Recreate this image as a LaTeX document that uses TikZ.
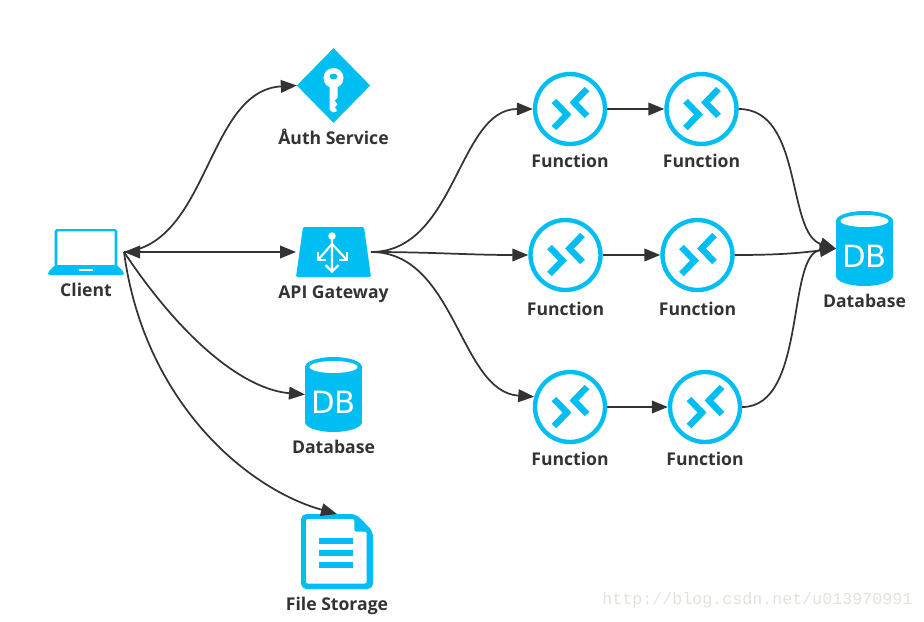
\documentclass[tikz,border=0pt]{standalone}
\usepackage{fontspec}
\setmainfont{Open Sans}
\newfontfamily\dbfont{DejaVu Sans}
\newfontfamily\markfont{Liberation Mono}
\usetikzlibrary{positioning,arrows.meta,shapes.geometric}
\definecolor{iconblue}{HTML}{00BEF2}
\definecolor{flowgray}{HTML}{333333}
\definecolor{labelgray}{HTML}{333333}
\definecolor{markgray}{HTML}{E2E2DA}
\tikzset{
    flow/.style={->,>={Triangle[length=12pt,width=9.5pt]},line width=1.3pt,draw=flowgray},
    iconlabel/.style={font=\bfseries\fontsize{13.2pt}{15pt}\selectfont,text=labelgray,inner sep=0pt,outer sep=0pt,text height=10pt,text depth=3pt},
    laptop/.style={rectangle,inner sep=0pt,outer sep=0pt,minimum width=57pt,minimum height=34.5pt,
        path picture={\begin{scope}[shift={(path picture bounding box.center)}]
            \draw[iconblue,line width=1.9pt,rounded corners=1pt] (-30,14)--(-30,-22)--(30,-22)--(30,14);
            \fill[iconblue,rounded corners=1.5pt] (-31,13)--(31,13)--(38,20)--(38,23)--(-38,23)--(-38,20)--cycle;
            \fill[white] (-7,17) rectangle (7,19);
        \end{scope}}},
    keyicon/.style={diamond,fill=iconblue,inner sep=0pt,outer sep=0pt,minimum width=55pt,minimum height=56pt,
        path picture={\begin{scope}[shift={(path picture bounding box.center)}]
            \fill[white] (0,-7.5) circle[radius=7.5pt];
            \fill[white] (-4,0)--(-4,24)--(-1,27)--(3,26)--(3,24)--(1,22)--(4,19)--(1,15)--(4,12)--(4,0)--cycle;
            \fill[iconblue] (0,-9) ellipse[x radius=3pt,y radius=2.2pt];
        \end{scope}}},
    gatewayicon/.style={rectangle,inner sep=0pt,outer sep=0pt,minimum width=56.25pt,minimum height=37.5pt,
        path picture={\begin{scope}[shift={(path picture bounding box.center)}]
            \fill[iconblue,rounded corners=1pt] (-30.5,-25)--(30.5,-25)--(37.5,25)--(-37.5,25)--cycle;
            \fill[white] (-1.5,-16) circle[radius=2.8pt];
            \draw[white,line width=1.6pt,miter limit=10] (-1.5,-16)--(-1.5,19) (-8,13)--(-1.5,19.5)--(5,13);
            \draw[white,line width=1.6pt] (-1.5,-8)--(-15.5,8) (-1.5,-8)--(13.5,8);
            \draw[white,line width=1.6pt] (-15.5,0)--(-15.5,8)--(-7.5,8) (13.5,0)--(13.5,8)--(5.5,8);
        \end{scope}}},
    dbicon/.style={rectangle,inner sep=0pt,outer sep=0pt,minimum width=42.75pt,minimum height=56.25pt,
        label={[text=white,font=\dbfont\fontsize{23pt}{25pt}\selectfont,inner sep=0pt,yshift=-6pt]center:DB},
        path picture={\begin{scope}[shift={(path picture bounding box.center)}]
            \fill[iconblue] (-28.5,-27.5) rectangle (28.5,27.5);
            \fill[iconblue] (0,-27.5) ellipse[x radius=21.375pt,y radius=7.5pt];
            \fill[iconblue] (0,27.5) ellipse[x radius=21.375pt,y radius=7.5pt];
            \fill[white] (0,-27.5) ellipse[x radius=18pt,y radius=4.5pt];
        \end{scope}}},
    fileicon/.style={rectangle,inner sep=0pt,outer sep=0pt,minimum width=54pt,minimum height=56.25pt,
        path picture={\begin{scope}[shift={(path picture bounding box.center)}]
            \fill[iconblue,rounded corners=4pt] (-36,-37.5)--(19,-37.5)--(36,-20)--(36,37.5)--(-36,37.5)--cycle;
            \fill[white,rounded corners=1.5pt] (-31,-32.5)--(17.3,-32.5)--(17.3,-19.8)--(29.7,-19.8)--(29.7,32)--(-31,32)--cycle;
            \foreach \liney in {-10.5,1.5,13.5}
                \fill[iconblue] (-18,\liney-3) rectangle (16,\liney+3);
        \end{scope}}},
    fnicon/.style={circle,draw=iconblue,line width=3.3pt,inner sep=0pt,minimum size=52.5pt,
        path picture={\begin{scope}[shift={(path picture bounding box.center)}]
            \draw[iconblue,line width=4.8pt] (-16,-8)--(-3,5.5)--(-16,19);
            \draw[iconblue,line width=4.8pt] (17,-20)--(4,-6.5)--(17,7);
        \end{scope}}},
}
\begin{document}
\begin{tikzpicture}[x=0.75pt,y=-0.75pt,node distance=6.3pt]
    \useasboundingbox (0,0) rectangle (924,621);
    \node[laptop] (client) at (86,252) {};
    \node[iconlabel,below=of client] (clientlabel) {Client};
    \node[keyicon] (auth) at (333.5,85.5) {};
    \node[iconlabel,below=of auth] (authlabel) {Åuth Service};
    \node[gatewayicon] (gateway) at (333.5,252) {};
    \node[iconlabel,below=of gateway] (gatewaylabel) {API Gateway};
    \node[dbicon] (dbleft) at (333.5,394.5) {};
    \node[iconlabel,below=of dbleft] (dbleftlabel) {Database};
    \node[fileicon] (filestore) at (337,551.5) {};
    \node[iconlabel,below=of filestore] (filelabel) {File Storage};
    \node[dbicon] (dbright) at (864.5,248.5) {};
    \node[iconlabel,below=of dbright] (dbrightlabel) {Database};

    \node[fnicon] (fntopa) at (570,109) {};
    \node[fnicon] (fntopb) at (701.5,109) {};
    \node[fnicon] (fnmida) at (565.5,255) {};
    \node[fnicon] (fnmidb) at (697.5,255) {};
    \node[fnicon] (fnlowa) at (570,407) {};
    \node[fnicon] (fnlowb) at (705,407) {};
    \node[iconlabel,below=of fntopa] (fntopalabel) {Function};
    \node[iconlabel,below=of fntopb] (fntopblabel) {Function};
    \node[iconlabel,below=7.6pt of fnmida] (fnmidalabel) {Function};
    \node[iconlabel,below=7.6pt of fnmidb] (fnmidblabel) {Function};
    \node[iconlabel,below=of fnlowa] (fnlowalabel) {Function};
    \node[iconlabel,below=of fnlowb] (fnlowblabel) {Function};

    \node[font=\markfont\fontsize{12.5pt}{14pt}\selectfont,text=markgray,inner sep=0pt] (watermark) at (757.5,600) {http://blog.csdn.net/u013970991};

    \draw[flow,<->] (client.east)--(gateway.west);
    \draw[flow] (client.east) .. controls +(85,-8) and +(-90,5) .. (auth.west);
    \draw[flow] (client.east) .. controls +(60,90) and +(-60,-5) .. (dbleft.west);
    \draw[flow] (client.east) .. controls +(20,150) and +(-90,-25) .. (filestore.north);

    \draw[flow] (gateway.east) .. controls +(85,0) and +(-75,0) .. (fntopa.west);
    \draw[flow] (gateway.east) .. controls +(60,0) and +(-60,0) .. (fnmida.west);
    \draw[flow] (gateway.east) .. controls +(85,0) and +(-75,-5) .. (fnlowa.164);

    \draw[flow] (fntopa)--(fntopb);
    \draw[flow] (fnmida)--(fnmidb);
    \draw[flow] (fnlowa)--(fnlowb);

    \draw[flow] (fntopb.east) .. controls +(65,0) and +(-50,-15) .. (dbright.west);
    \draw[flow] (fnmidb.east) .. controls +(40,0) and +(-40,5) .. (dbright.west);
    \draw[flow] (fnlowb.east) .. controls +(65,0) and +(-50,5) .. (dbright.west);
\end{tikzpicture}
\end{document}
